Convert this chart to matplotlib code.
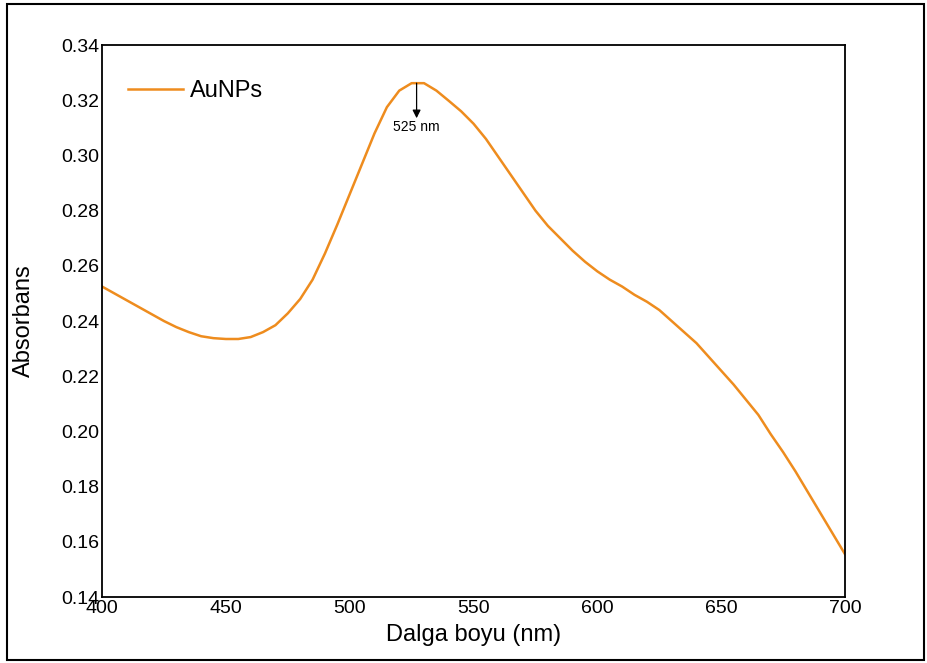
import numpy as np
import matplotlib
matplotlib.use("Agg")
import matplotlib.pyplot as plt
from matplotlib.patches import Rectangle

# ---------------------------
# Data
# ---------------------------
wavelength = [400, 405, 410, 415, 420, 425, 430, 435, 440, 445,
              450, 455, 460, 465, 470, 475, 480, 485, 490, 495,
              500, 505, 510, 515, 520, 525, 530, 535, 540, 545,
              550, 555, 560, 565, 570, 575, 580, 585, 590, 595,
              600, 605, 610, 615, 620, 625, 630, 635, 640, 645,
              650, 655, 660, 665, 670, 675, 680, 685, 690, 695, 700]
absorbance = [0.2525, 0.2500, 0.2475, 0.2450, 0.2425, 0.2400, 0.2378, 0.2360, 0.2345, 0.2338,
              0.2335, 0.2335, 0.2342, 0.2360, 0.2385, 0.2428, 0.2480, 0.2550, 0.2645, 0.2750,
              0.2860, 0.2970, 0.3080, 0.3175, 0.3235, 0.3262, 0.3262, 0.3235, 0.3198, 0.3160,
              0.3115, 0.3060, 0.2995, 0.2930, 0.2865, 0.2800, 0.2745, 0.2700, 0.2655, 0.2615,
              0.2580, 0.2550, 0.2525, 0.2495, 0.2470, 0.2440, 0.2400, 0.2360, 0.2320, 0.2270,
              0.2220, 0.2170, 0.2115, 0.2060, 0.1990, 0.1925, 0.1855, 0.1780, 0.1705, 0.1630, 0.1555]
series_label = "AuNPs"
peak_nm = 527
peak_abs = 0.3262
peak_text = "525 nm"
x_ticks = [400, 450, 500, 550, 600, 650, 700]
y_ticks = [0.14, 0.16, 0.18, 0.20, 0.22, 0.24, 0.26, 0.28, 0.30, 0.32, 0.34]

plt.rcParams.update({
    "font.family": ["Liberation Sans", "DejaVu Sans"],
    "font.size": 14,
})

fig = plt.figure(figsize=(9.28, 6.63), dpi=100)
ax = fig.add_axes([0.110, 0.0995, 0.8006, 0.8325])

ax.plot(wavelength, absorbance, color="#EE8C1E", linewidth=1.8, label=series_label)

# arrow marking the plasmon peak
ax.annotate("", xy=(peak_nm, 0.3135), xytext=(peak_nm, peak_abs),
            arrowprops=dict(arrowstyle="-|>", color="black", lw=0.9,
                            mutation_scale=12, shrinkA=0, shrinkB=0))
ax.text(peak_nm, 0.3103, peak_text, ha="center", va="center", fontsize=10)

ax.set_xlim(400, 700)
ax.set_ylim(0.14, 0.34)
ax.set_xticks(x_ticks)
ax.set_yticks(y_ticks)
ax.set_yticklabels([f"{v:.2f}" for v in y_ticks])
ax.tick_params(length=0, labelsize=14, pad=2)
for s in ax.spines.values():
    s.set_linewidth(1.3)

ax.set_xlabel("Dalga boyu (nm)", fontsize=17, labelpad=5)
ax.set_ylabel("Absorbans", fontsize=17, labelpad=19)

ax.legend(loc="upper left", frameon=False, fontsize=17, handlelength=2.35,
          handletextpad=0.3, bbox_to_anchor=(0.006, 0.975))

# frame around the whole picture
fig.patches.append(Rectangle((0.008, 0.004), 0.988, 0.99, transform=fig.transFigure,
                             fill=False, edgecolor="black", linewidth=1.5))

fig.savefig("out.png", dpi=100)
